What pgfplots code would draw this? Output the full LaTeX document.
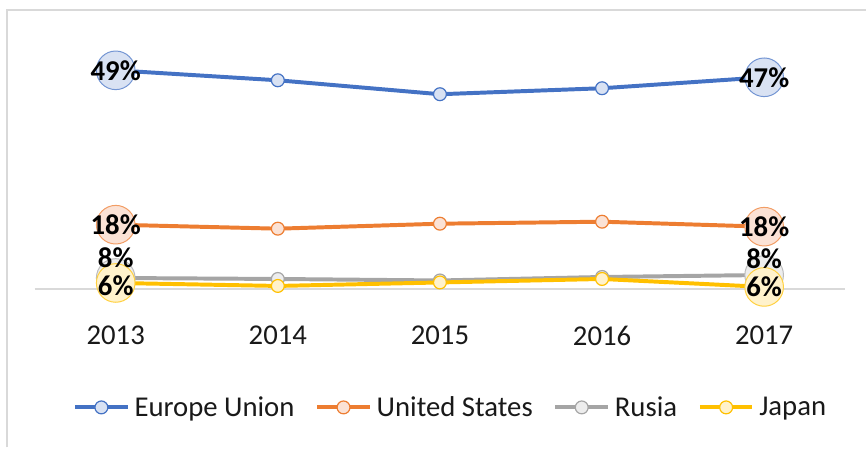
\documentclass[border=0pt]{standalone}
\usepackage{fontspec}
\setmainfont{Carlito}
\usepackage{pgfplots}
\pgfplotsset{compat=1.18}
\definecolor{cEU}{HTML}{4472C4}
\definecolor{fEU}{HTML}{D9E2F3}
\definecolor{cUS}{HTML}{ED7D31}
\definecolor{fUS}{HTML}{FBE2D5}
\definecolor{cRU}{HTML}{A5A5A5}
\definecolor{fRU}{HTML}{EDEDED}
\definecolor{cJP}{HTML}{FFC000}
\definecolor{fJP}{HTML}{FFF2CC}
\definecolor{gridc}{HTML}{D9D9D9}
\begin{document}
\begin{tikzpicture}
\begin{axis}[
  scale only axis, width=818.75pt, height=225.5pt,
  xmin=2012.5, xmax=2017.5, ymin=5.17, ymax=50,
  axis x line*=bottom, axis y line=none,
  axis line style={draw=gridc, line width=1.5pt},
  xtick={2013,2014,2015,2016,2017},
  xticklabels={2013,2014,2015,2016,2017},
  major tick length=0pt, ytick=\empty,
  xticklabel style={font=\fontsize{29}{31}\selectfont, text=black!90, inner sep=0pt, anchor=north, yshift=-37pt},
  clip=false,
  legend columns=4,
  legend style={at={(0.512,-0.53)}, anchor=center, draw=none, fill=none,
    font=\fontsize{29}{31}\selectfont, text=black!90, inner sep=0pt,
    nodes={inner sep=0pt},
    /tikz/every even column/.append style={column sep=21pt},
    /tikz/every odd column/.append style={column sep=5pt}},
  legend image code/.code={\draw[mark repeat=2,mark phase=2,#1] plot coordinates {(0pt,0pt) (26.5pt,0pt) (53pt,0pt)};},
  nodes near coords style={anchor=center, font=\bfseries\fontsize{29}{31}\selectfont, text=black, inner sep=0pt},
]
% Europe Union
\addplot[cEU, line width=4pt, mark=*, mark size=6.5pt, mark options={fill=fEU, draw=cEU, line width=1.2pt}]
  coordinates {(2013,49.1) (2014,47.1) (2015,44.3) (2016,45.5) (2017,47.7)};
\addlegendentry{Europe Union}
\addplot[forget plot, only marks, mark=*, mark size=19.5pt, mark options={fill=fEU, draw=cEU!75, line width=1pt}]
  coordinates {(2013,49.1) (2017,47.7)};
% United States
\addplot[cUS, line width=4pt, mark=*, mark size=6.5pt, mark options={fill=fUS, draw=cUS, line width=1.2pt}]
  coordinates {(2013,18.1) (2014,17.3) (2015,18.3) (2016,18.7) (2017,17.7)};
\addlegendentry{United States}
\addplot[forget plot, only marks, mark=*, mark size=19.5pt, mark options={fill=fUS, draw=cUS!75, line width=1pt}]
  coordinates {(2013,18.1) (2017,17.7)};
% Rusia
\addplot[cRU, line width=4pt, mark=*, mark size=6.5pt, mark options={fill=fRU, draw=cRU, line width=1.2pt}]
  coordinates {(2013,7.4) (2014,7.2) (2015,6.9) (2016,7.6) (2017,8.0)};
\addlegendentry{Rusia}
\addplot[forget plot, only marks, mark=*, mark size=19.5pt, mark options={fill=fRU, draw=cRU!75, line width=1pt}]
  coordinates {(2013,7.4) (2017,8.0)};
% Japan
\addplot[cJP, line width=4pt, mark=*, mark size=6.5pt, mark options={fill=fJP, draw=cJP, line width=1.2pt}]
  coordinates {(2013,6.4) (2014,5.8) (2015,6.5) (2016,7.2) (2017,5.6)};
\addlegendentry{Japan}
\addplot[forget plot, only marks, mark=*, mark size=19.5pt, mark options={fill=fJP, draw=cJP!75, line width=1pt}]
  coordinates {(2013,6.4) (2017,5.6)};
% data labels
\addplot[forget plot, draw=none, mark=none, nodes near coords, point meta=explicit symbolic]
  coordinates {(2013,49.1) [49\%] (2017,47.7) [47\%]
               (2013,18.1) [18\%] (2017,17.7) [18\%]
               (2013,11.4) [8\%]  (2017,11.2) [8\%]
               (2013,5.9) [6\%]  (2017,5.7) [6\%]};
\end{axis}
\draw[gridc, line width=1.5pt] (-28pt,-160pt) -- (-28pt,282pt) -- (840pt,282pt);
\path[use as bounding box] (-35pt,-149pt) rectangle (832pt,292pt);
\end{tikzpicture}
\end{document}
